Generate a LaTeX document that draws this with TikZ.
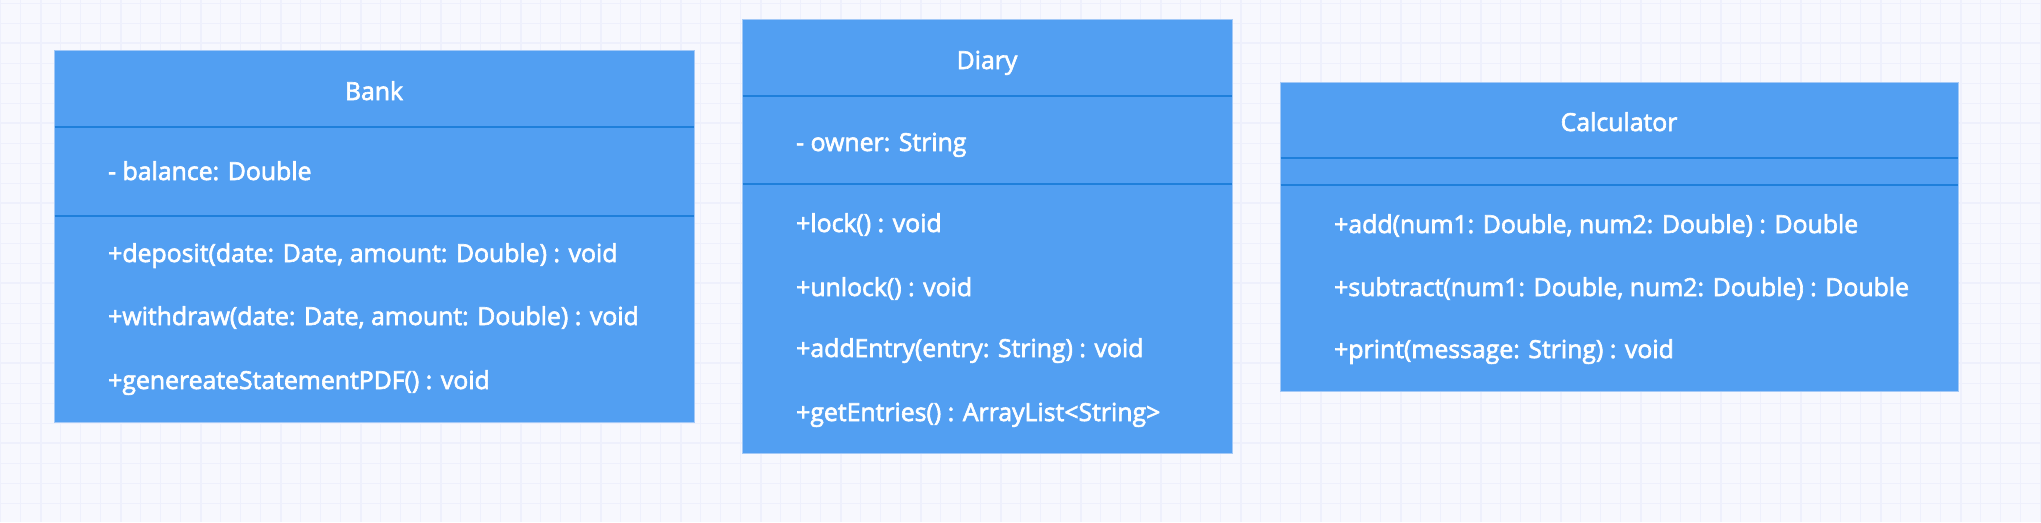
\documentclass[tikz,border=0pt]{standalone}
\usepackage{fontspec}
\newfontfamily\umlfont[FakeBold=2.5]{Open Sans}
\definecolor{bgc}{HTML}{F7F8FE}
\definecolor{gridc}{HTML}{EEF0FC}
\definecolor{boxc}{HTML}{529FF2}
\definecolor{boxedge}{HTML}{A3C9F7}
\definecolor{divc}{HTML}{1E7FDB}
\tikzset{
  classbox/.style={fill=boxc, draw=boxedge, line width=1pt, inner sep=0pt, outer sep=0pt, anchor=north west},
  divider/.style={draw=divc, line width=2pt},
  umltitle/.style={text=white, inner sep=0pt, anchor=base, font=\umlfont\fontsize{24.8}{29}\selectfont},
  umltext/.style={text=white, inner sep=0pt, anchor=base west, font=\umlfont\fontsize{24.8}{29}\selectfont},
  minorgrid/.style={draw=gridc, line width=1pt},
  majorgrid/.style={draw=gridc, line width=2pt}
}
\begin{document}
\begin{tikzpicture}[x=1pt,y=-1pt]
\useasboundingbox (0,0) rectangle (2041,522);
\fill[bgc] (0,0) rectangle (2041,522);
\foreach \gx in {0,20,...,2040} \draw[minorgrid] (\gx+0.5,0) -- (\gx+0.5,522);
\foreach \gy in {3,23,...,522} \draw[minorgrid] (0,\gy) -- (2041,\gy);
\foreach \gx in {40,120,...,2040} \draw[majorgrid] (\gx+0.5,0) -- (\gx+0.5,522);
\foreach \gy in {43,123,...,522} \draw[majorgrid] (0,\gy) -- (2041,\gy);

% Bank
\node[classbox, minimum width=640pt, minimum height=372pt] (bank) at (54,50) {};
\draw[divider] (54.5,126.5) -- (693.5,126.5);
\draw[divider] (54.5,215.5) -- (693.5,215.5);
\node[umltitle] (bankT) at (374,100) {Bank};
\node[umltext] (bankA1) at (108,180) {- balance: Double};
\node[umltext] (bankM1) at (108,262) {+deposit(date: Date, amount: Double) : void};
\node[umltext] (bankM2) at (108,325) {+withdraw(date: Date, amount: Double) : void};
\node[umltext] (bankM3) at (108,389) {+genereateStatementPDF() : void};

% Diary
\node[classbox, minimum width=490pt, minimum height=434pt] (diary) at (742,19) {};
\draw[divider] (742.5,96) -- (1231.5,96);
\draw[divider] (742.5,184) -- (1231.5,184);
\node[umltitle] (diaryT) at (987,69) {Diary};
\node[umltext] (diaryA1) at (796,151) {- owner: String};
\node[umltext] (diaryM1) at (796,232) {+lock() : void};
\node[umltext] (diaryM2) at (796,296) {+unlock() : void};
\node[umltext] (diaryM3) at (796,357) {+addEntry(entry: String) : void};
\node[umltext] (diaryM4) at (796,421) {+getEntries() : ArrayList<String>};

% Calculator
\node[classbox, minimum width=678pt, minimum height=309pt] (calc) at (1280,82) {};
\draw[divider] (1280.5,158) -- (1957.5,158);
\draw[divider] (1280.5,185) -- (1957.5,185);
\node[umltitle] (calcT) at (1619,131) {Calculator};
\node[umltext] (calcM1) at (1334,233) {+add(num1: Double, num2: Double) : Double};
\node[umltext] (calcM2) at (1334,296) {+subtract(num1: Double, num2: Double) : Double};
\node[umltext] (calcM3) at (1334,358) {+print(message: String) : void};
\end{tikzpicture}
\end{document}
